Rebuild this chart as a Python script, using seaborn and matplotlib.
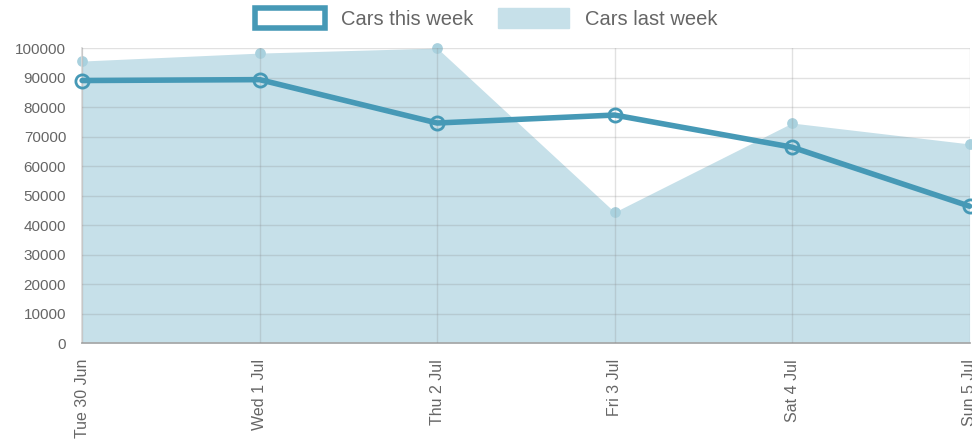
import numpy as np
import pandas as pd
import seaborn as sns
import matplotlib.pyplot as plt
from matplotlib.patches import Patch

# Data
days = ['Tue 30 Jun', 'Wed 1 Jul', 'Thu 2 Jul', 'Fri 3 Jul', 'Sat 4 Jul', 'Sun 5 Jul']
cars_this_week = [89000, 89300, 74600, 77300, 66400, 46400]
cars_last_week = [95600, 98300, 100000, 44400, 74600, 67500]
y_ticks = [0, 10000, 20000, 30000, 40000, 50000, 60000, 70000, 80000, 90000, 100000]

line_col = '#4699b6'
fill_col = '#c6e0e9'
pt_col = '#a9d1de'

sns.set_theme(style='white')
plt.rcParams['font.family'] = ['Liberation Sans', 'DejaVu Sans']

df = pd.DataFrame({'day': days, 'this': cars_this_week, 'last': cars_last_week})
df['x'] = range(len(days))

fig = plt.figure(figsize=(9.72, 4.41), dpi=100)
ax = fig.add_axes([0.0845, 0.222, 0.913, 0.669])

ax.fill_between(df['x'], 0, df['last'], color=fill_col, linewidth=0, zorder=1)
ax.scatter(df['x'], df['last'], s=60, color=pt_col, zorder=2, clip_on=False, linewidths=0)
sns.lineplot(data=df, x='x', y='this', ax=ax, color=line_col, linewidth=4,
             marker='o', markersize=9.5, markerfacecolor='none',
             markeredgecolor=line_col, markeredgewidth=2, zorder=3, clip_on=False)

ax.set_xlim(0, 5)
ax.set_ylim(0, 100000)
ax.set_yticks(y_ticks)
ax.set_yticklabels([str(v) for v in y_ticks])
ax.set_xticks(df['x'])
ax.set_xticklabels(days, rotation=90)
ax.set_xlabel('')
ax.set_ylabel('')

ax.grid(True, color='#8a8a8a', alpha=0.25, linewidth=1)
ax.set_axisbelow(False)
for s in ['top', 'right']:
    ax.spines[s].set_visible(False)
ax.spines['left'].set_color('#d9d9d9')
ax.spines['bottom'].set_color('#a9a9a9')
ax.tick_params(axis='both', colors='#d0d0d0', length=8, width=1, labelcolor='#666666', labelsize=11)
ax.tick_params(axis='x', labelsize=11.5)

handles = [Patch(facecolor='white', edgecolor=line_col, linewidth=4),
           Patch(facecolor=fill_col, edgecolor=fill_col)]
fig.legend(handles, ['Cars this week', 'Cars last week'], loc='upper center',
           bbox_to_anchor=(0.5, 1.022), ncol=2, frameon=False, fontsize=14.5,
           handlelength=3.5, handleheight=1.1, columnspacing=1.2,
           labelcolor='#666666')

fig.savefig('out.png', dpi=100)
